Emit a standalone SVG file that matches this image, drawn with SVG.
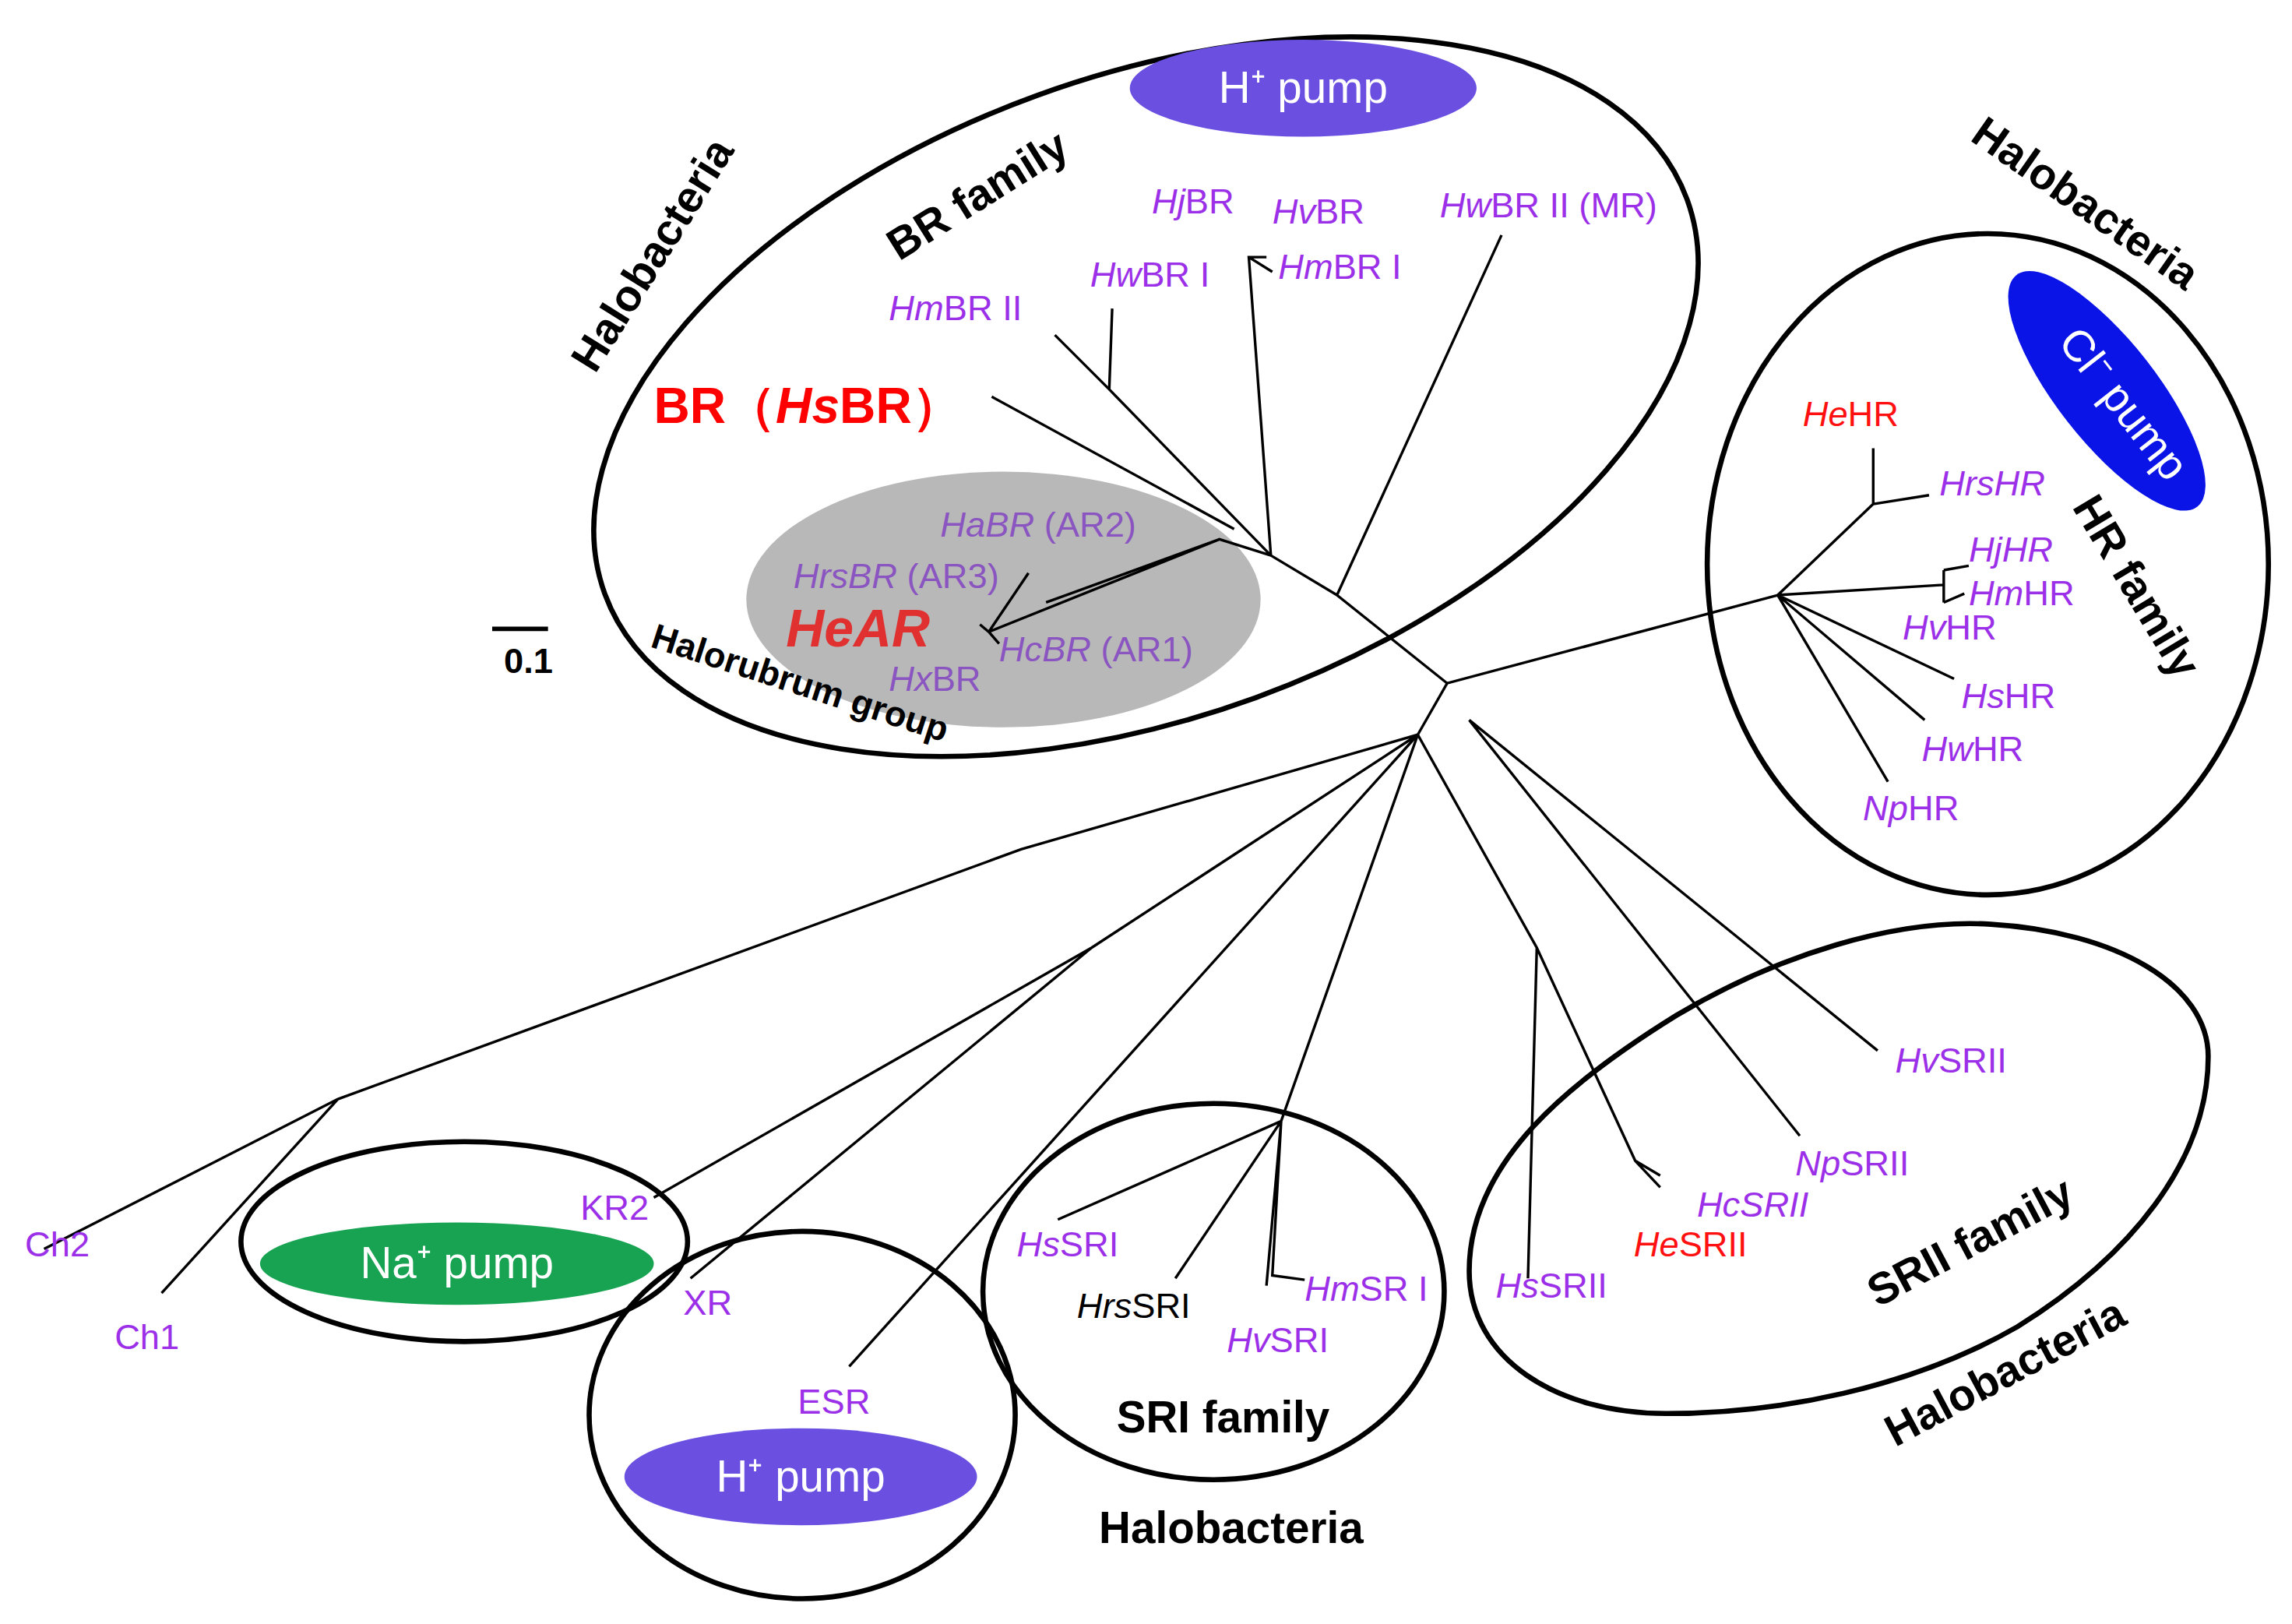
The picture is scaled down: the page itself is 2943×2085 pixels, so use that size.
<svg xmlns="http://www.w3.org/2000/svg" width="2943" height="2085" viewBox="0 0 2943 2085">
<style>
text{font-family:"Liberation Sans",Arial,sans-serif}
.b{fill:none;stroke:#000;stroke-width:3.5}
.t{fill:none;stroke:#000;stroke-width:1.8}
.p{fill:#9b30e8;font-size:24px}
.r{fill:#ff1010;font-size:24px}
.g{fill:#8a55c0;font-size:24px}
.k{fill:#000;font-size:24px}
.h{fill:#000;font-size:30px;font-weight:bold}
.w{fill:#fff;font-size:30px}
.i{font-style:italic}
</style>
<rect width="2943" height="2085" fill="#fff"/>
<g transform="scale(1.8865)">
<g id="groups">
<ellipse cx="683" cy="408" rx="175" ry="87" fill="#b8b8b8"/>
<ellipse class="b" cx="780" cy="270" rx="392" ry="218" transform="rotate(-20 780 270)"/>
<ellipse class="b" cx="1353" cy="384" rx="191" ry="225"/>
<path class="b" d="M1000 865C1000 790 1070 735 1141 691C1210 650 1290 625 1355 629C1440 634 1503 670 1503 719C1503 790 1450 855 1373 903C1300 945 1210 962 1134 962C1060 962 1000 925 1000 865Z"/>
<ellipse class="b" cx="826" cy="879" rx="157" ry="128"/>
<ellipse class="b" cx="316" cy="845" rx="152" ry="68"/>
<ellipse class="b" cx="546" cy="963" rx="145" ry="125"/>
<ellipse cx="887" cy="60" rx="118" ry="33" fill="#6a4fe0"/>
<ellipse cx="1434" cy="266" rx="100" ry="34" fill="#0a14e6" transform="rotate(52 1434 266)"/>
<ellipse cx="311" cy="860" rx="134" ry="28" fill="#17a352"/>
<ellipse cx="545" cy="1005" rx="120" ry="33" fill="#6a4fe0"/>
</g>
<g id="connectors">
<path class="t" d="M1210 405L985 465L965 500M1210 405L1275 343L1275 305M1275 343L1313 337M1210 405L1323 398M1323 388L1323 410M1323 388L1340 385M1323 410L1337 404M1210 405L1330 462M1210 405L1310 490M1210 405L1285 532"/>
<path class="t" d="M985 465L910 405L1022 160M910 405L865 378L850 175L862 175M850 175L866 185M865 378L755 265L718 228M755 265L757 210M840 360L675 270M865 378L830 367L673 430M700 390L673 430L667 425M673 430L680 438M830 367L712 410"/>
<path class="t" d="M965 500L695 578L230 748L30 850M230 748L110 880M965 500L743 645L445 815M743 645L470 870M965 500L578 930"/>
<path class="t" d="M965 500L872 763L720 830M872 763L800 870M872 763L862 875M872 763L866 868L888 871"/>
<path class="t" d="M965 500L1046 645L1040 870M1046 645L1113 790L1130 800M1113 790L1130 808M1000 490L1225 773M1000 490L1278 715"/>
<path d="M335 428H373" stroke="#000" stroke-width="3"/>
</g>
<g id="labels">
<text class="k" x="343" y="458" font-weight="bold" font-size="20">0.1</text>
<text class="h" transform="translate(405 255) rotate(-58)">Halobacteria</text>
<text class="h" transform="translate(612 178) rotate(-32)" font-size="28">BR family</text>
<text class="w" x="887" y="70" text-anchor="middle">H⁺ pump</text>
<text class="h" transform="translate(1340 95) rotate(35)">Halobacteria</text>
<text class="w" transform="translate(1400 233) rotate(52)">Cl⁻ pump</text>
<text class="h" transform="translate(1410 345) rotate(59)" font-size="28">HR family</text>
<text x="445" y="288" fill="#f00" font-size="34" font-weight="bold">BR（<tspan class="i">Hs</tspan>BR）</text>
<text class="p" x="605" y="218"><tspan class="i">Hm</tspan>BR II</text>
<text class="p" x="742" y="195"><tspan class="i">Hw</tspan>BR I</text>
<text class="p" x="784" y="145"><tspan class="i">Hj</tspan>BR</text>
<text class="p" x="866" y="152"><tspan class="i">Hv</tspan>BR</text>
<text class="p" x="870" y="190"><tspan class="i">Hm</tspan>BR I</text>
<text class="p" x="980" y="148"><tspan class="i">Hw</tspan>BR II (MR)</text>
<text class="g" x="640" y="365"><tspan class="i">HaBR</tspan> (AR2)</text>
<text class="g" x="540" y="400"><tspan class="i">HrsBR</tspan> (AR3)</text>
<text x="535" y="440" fill="#e03030" font-size="36" font-weight="bold" font-style="italic">HeAR</text>
<text class="g" x="680" y="450"><tspan class="i">HcBR</tspan> (AR1)</text>
<text class="g" x="605" y="470"><tspan class="i">Hx</tspan>BR</text>
<text class="k" transform="translate(442 440) rotate(18)" font-size="22" font-weight="bold">Halorubrum group</text>
<text class="r" x="1227" y="290"><tspan class="i">He</tspan>HR</text>
<text class="p" x="1320" y="337" font-style="italic">HrsHR</text>
<text class="p" x="1340" y="382" font-style="italic">HjHR</text>
<text class="p" x="1340" y="412"><tspan class="i">Hm</tspan>HR</text>
<text class="p" x="1295" y="435"><tspan class="i">Hv</tspan>HR</text>
<text class="p" x="1335" y="482"><tspan class="i">Hs</tspan>HR</text>
<text class="p" x="1308" y="518"><tspan class="i">Hw</tspan>HR</text>
<text class="p" x="1268" y="558"><tspan class="i">Np</tspan>HR</text>
<text class="p" x="17" y="855">Ch2</text>
<text class="p" x="78" y="918">Ch1</text>
<text class="p" x="395" y="830">KR2</text>
<text class="w" x="311" y="870" text-anchor="middle">Na⁺ pump</text>
<text class="p" x="465" y="895">XR</text>
<text class="p" x="543" y="962">ESR</text>
<text class="w" x="545" y="1015" text-anchor="middle">H⁺ pump</text>
<text class="p" x="692" y="855"><tspan class="i">Hs</tspan>SRI</text>
<text class="k" x="733" y="897"><tspan class="i">Hrs</tspan>SRI</text>
<text class="p" x="835" y="920"><tspan class="i">Hv</tspan>SRI</text>
<text class="p" x="888" y="885"><tspan class="i">Hm</tspan>SR I</text>
<text class="h" x="760" y="975" font-size="28">SRI family</text>
<text class="h" x="748" y="1050">Halobacteria</text>
<text class="p" x="1018" y="883"><tspan class="i">Hs</tspan>SRII</text>
<text class="r" x="1112" y="855"><tspan class="i">He</tspan>SRII</text>
<text class="p" x="1155" y="828" font-style="italic">HcSRII</text>
<text class="p" x="1222" y="800"><tspan class="i">Np</tspan>SRII</text>
<text class="p" x="1290" y="730"><tspan class="i">Hv</tspan>SRII</text>
<text class="h" transform="translate(1278 890) rotate(-28)" font-size="28">SRII family</text>
<text class="h" transform="translate(1290 985) rotate(-28)">Halobacteria</text>
</g>
</g>
</svg>
